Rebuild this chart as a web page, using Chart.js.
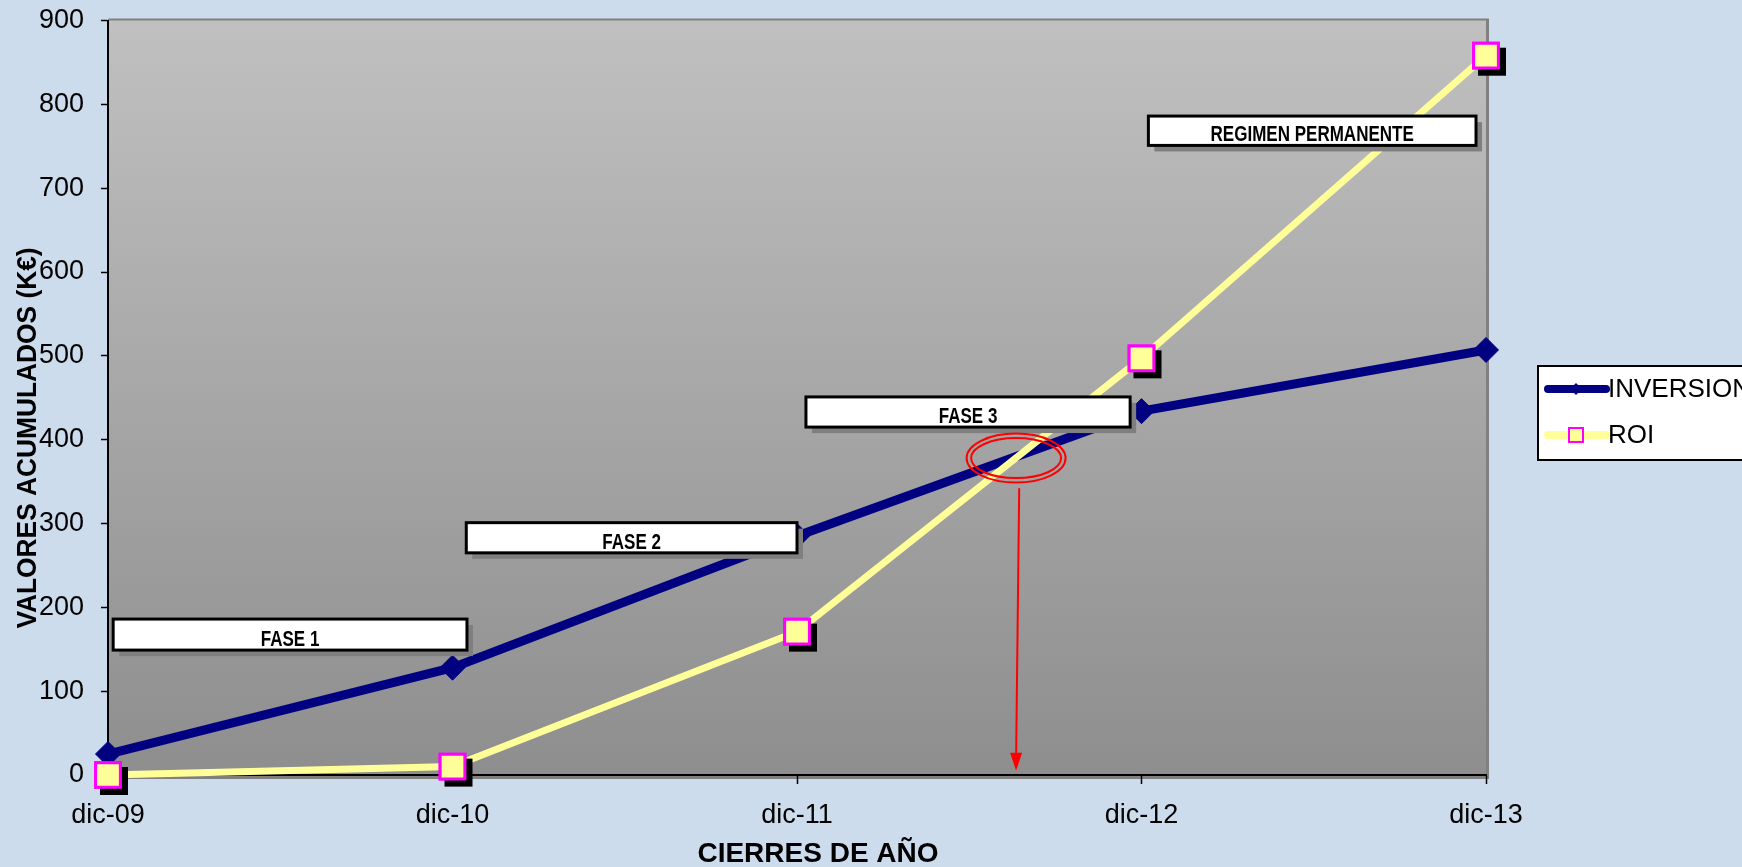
<!DOCTYPE html>
<html lang="es">
<head>
<meta charset="UTF-8">
<title>Inversión y ROI acumulados</title>
<script src="https://cdn.jsdelivr.net/npm/chart.js"></script>
<style>
    html, body {
        margin: 0;
        padding: 0;
        background-color: #cddcec;
        overflow: hidden;
    }
    #grafica { display: block; }
</style>
</head>
<body>
<canvas id="grafica" width="1742" height="867"></canvas>
<script>
// Datos (K€)
const cierres = ['dic-09', 'dic-10', 'dic-11', 'dic-12', 'dic-13'];
const inversion = [25, 128, 285, 434, 507];
const roi = [0, 10, 171, 497, 858];
const ticksY = [0, 100, 200, 300, 400, 500, 600, 700, 800, 900];

// Cuadros de fase: posición en el eje X (índice de cierre) y en el eje Y (K€)
const fases = ['FASE 1', 'FASE 2', 'FASE 3', 'REGIMEN PERMANENTE'];
const faseDesde = [0.015, 1.04, 2.026, 3.02];
const faseHasta = [1.042, 2.0, 2.967, 3.971];
const faseArriba = [186, 301, 451, 786];
const faseAbajo = [149, 265, 415, 751];

// Punto de corte marcado con elipse y flecha
const cruce = [2.636, 378];
const flechaDesde = [2.645, 342];
const flechaHasta = [2.636, 5];

const fuente = '"Liberation Sans", Arial, sans-serif';
const LADO_ROI = 28;

Chart.defaults.font.family = fuente;

// Fondo de la página y del área del gráfico
const fondo = {
    id: 'fondo',
    beforeDraw(chart) {
        const { ctx, chartArea: a } = chart;
        ctx.save();
        ctx.fillStyle = '#cddcec';
        ctx.fillRect(0, 0, chart.width, chart.height);
        ctx.fillStyle = '#808080';
        ctx.fillRect(a.left, a.top - 2, a.width + 3, a.height + 6);
        const g = ctx.createLinearGradient(0, a.top, 0, a.bottom);
        g.addColorStop(0, '#c0c0c0');
        g.addColorStop(1, '#8e8e8e');
        ctx.fillStyle = g;
        ctx.fillRect(a.left, a.top, a.width, a.height);
        ctx.restore();
    }
};

// Sombra negra de los cuadrados del ROI
const sombras = {
    id: 'sombras',
    afterDatasetDraw(chart, args) {
        const ds = chart.data.datasets[args.index];
        if (!ds.sombra) return;
        const ctx = chart.ctx;
        const zona = { left: 0, top: 0, right: chart.width, bottom: chart.height };
        ctx.save();
        ctx.fillStyle = '#000';
        args.meta.data.forEach(p => {
            ctx.fillRect(p.x - LADO_ROI / 2 + 6, p.y - LADO_ROI / 2 + 6, LADO_ROI, LADO_ROI);
        });
        args.meta.data.forEach(p => p.draw(ctx, zona));
        ctx.restore();
    }
};

// Cuadros de fase, elipse y flecha
const anotaciones = {
    id: 'anotaciones',
    afterDatasetsDraw(chart) {
        const ctx = chart.ctx;
        const x = chart.scales.x, y = chart.scales.y;
        ctx.save();
        fases.forEach((texto, i) => {
            const l = x.getPixelForValue(faseDesde[i]);
            const r = x.getPixelForValue(faseHasta[i]);
            const t = y.getPixelForValue(faseArriba[i]);
            const b = y.getPixelForValue(faseAbajo[i]);
            ctx.fillStyle = '#7f7f7f';
            ctx.fillRect(l + 6, t + 6, r - l, b - t);
            ctx.fillStyle = '#fff';
            ctx.fillRect(l, t, r - l, b - t);
            ctx.lineWidth = 3;
            ctx.strokeStyle = '#000';
            ctx.strokeRect(l, t, r - l, b - t);
            ctx.save();
            ctx.translate((l + r) / 2, b - 4);
            ctx.scale(0.83, 1.05);
            ctx.font = 'bold 20.5px ' + fuente;
            ctx.textAlign = 'center';
            ctx.textBaseline = 'alphabetic';
            ctx.fillStyle = '#000';
            ctx.fillText(texto, 0, 0);
            ctx.restore();
        });

        // elipse doble en el cruce
        const cx = x.getPixelForValue(cruce[0]);
        const cy = y.getPixelForValue(cruce[1]);
        ctx.strokeStyle = '#ff0000';
        ctx.lineWidth = 2;
        ctx.beginPath();
        ctx.ellipse(cx, cy, 49.5, 24.5, 0, 0, Math.PI * 2);
        ctx.stroke();
        ctx.beginPath();
        ctx.ellipse(cx, cy, 45, 20, 0, 0, Math.PI * 2);
        ctx.stroke();

        // flecha hacia el eje X
        const x1 = x.getPixelForValue(flechaDesde[0]), y1 = y.getPixelForValue(flechaDesde[1]);
        const x2 = x.getPixelForValue(flechaHasta[0]), y2 = y.getPixelForValue(flechaHasta[1]);
        ctx.beginPath();
        ctx.moveTo(x1, y1);
        ctx.lineTo(x2, y2 - 12);
        ctx.stroke();
        ctx.fillStyle = '#ff0000';
        ctx.beginPath();
        ctx.moveTo(x2, y2);
        ctx.lineTo(x2 - 6, y2 - 18);
        ctx.lineTo(x2 + 6, y2 - 18);
        ctx.closePath();
        ctx.fill();
        ctx.restore();
    },
    afterDraw(chart) {
        const ctx = chart.ctx;
        ctx.save();
        ctx.fillStyle = '#000';

        // títulos de los ejes
        ctx.font = 'bold 28px ' + fuente;
        ctx.textAlign = 'center';
        ctx.textBaseline = 'alphabetic';
        ctx.fillText('CIERRES DE AÑO', 818, 862);

        ctx.save();
        ctx.translate(36, 438);
        ctx.rotate(-Math.PI / 2);
        ctx.scale(0.94, 1);
        ctx.font = 'bold 28px ' + fuente;
        ctx.fillText('VALORES ACUMULADOS (K€)', 0, 0);
        ctx.restore();

        // leyenda (cortada por el borde derecho, como en el original)
        const lx = 1538, ly = 366;
        ctx.fillStyle = '#fff';
        ctx.fillRect(lx, ly, 260, 94);
        ctx.strokeStyle = '#000';
        ctx.lineWidth = 2;
        ctx.strokeRect(lx, ly, 260, 94);

        chart.data.datasets.forEach((ds, i) => {
            const yy = ly + 23 + i * 46;
            ctx.strokeStyle = ds.borderColor;
            ctx.lineWidth = 8;
            ctx.lineCap = 'round';
            ctx.beginPath();
            ctx.moveTo(lx + 10, yy);
            ctx.lineTo(lx + 68, yy);
            ctx.stroke();
            const mx = lx + 38;
            if (ds.pointStyle === 'rectRot') {
                ctx.fillStyle = ds.pointBackgroundColor;
                ctx.beginPath();
                ctx.moveTo(mx, yy - 6);
                ctx.lineTo(mx + 6, yy);
                ctx.lineTo(mx, yy + 6);
                ctx.lineTo(mx - 6, yy);
                ctx.closePath();
                ctx.fill();
            } else {
                ctx.fillStyle = ds.pointBackgroundColor;
                ctx.fillRect(mx - 7, yy - 7, 14, 14);
                ctx.strokeStyle = ds.pointBorderColor;
                ctx.lineWidth = 2;
                ctx.strokeRect(mx - 7, yy - 7, 14, 14);
            }
            ctx.fillStyle = '#000';
            ctx.font = '26px ' + fuente;
            ctx.textAlign = 'left';
            ctx.textBaseline = 'middle';
            ctx.fillText(ds.label, lx + 70, yy + 1);
        });
        ctx.restore();
    }
};

new Chart(document.getElementById('grafica'), {
    type: 'line',
    data: {
        labels: cierres,
        datasets: [{
            label: 'INVERSION',
            data: inversion,
            borderColor: '#000080',
            borderWidth: 9,
            pointStyle: 'rectRot',
            pointRadius: 12.5,
            pointBackgroundColor: '#000080',
            pointBorderColor: '#000080',
            pointBorderWidth: 1,
            tension: 0,
            clip: false,
            order: 1
        }, {
            label: 'ROI',
            data: roi,
            borderColor: '#ffff99',
            borderWidth: 7,
            pointStyle: 'rect',
            pointRadius: 17.5,
            pointBackgroundColor: '#ffff99',
            pointBorderColor: '#ff00ff',
            pointBorderWidth: 3,
            tension: 0,
            clip: false,
            sombra: true,
            order: 0
        }]
    },
    options: {
        responsive: false,
        animation: false,
        devicePixelRatio: 1,
        layout: { padding: { left: 0, right: 256, top: 20, bottom: 0 } },
        plugins: {
            legend: { display: false },
            tooltip: { enabled: false }
        },
        scales: {
            x: {
                offset: false,
                afterFit: s => { s.height = 92; },
                grid: { drawOnChartArea: false, drawTicks: true, tickLength: 9, color: '#000', tickWidth: 1.5 },
                border: { color: '#000', width: 2 },
                ticks: { color: '#000', font: { size: 27 }, padding: 15, maxRotation: 0 }
            },
            y: {
                min: 0,
                max: 900,
                afterFit: s => { s.width = 108; s.paddingTop = 0; s.paddingBottom = 0; },
                afterBuildTicks: s => { s.ticks = ticksY.map(v => ({ value: v })); },
                grid: { drawOnChartArea: false, drawTicks: true, tickLength: 7, color: '#000', tickWidth: 1.5 },
                border: { color: '#000', width: 2 },
                ticks: { color: '#000', font: { size: 27 }, padding: 17 }
            }
        }
    },
    plugins: [fondo, sombras, anotaciones]
});
</script>
</body>
</html>
